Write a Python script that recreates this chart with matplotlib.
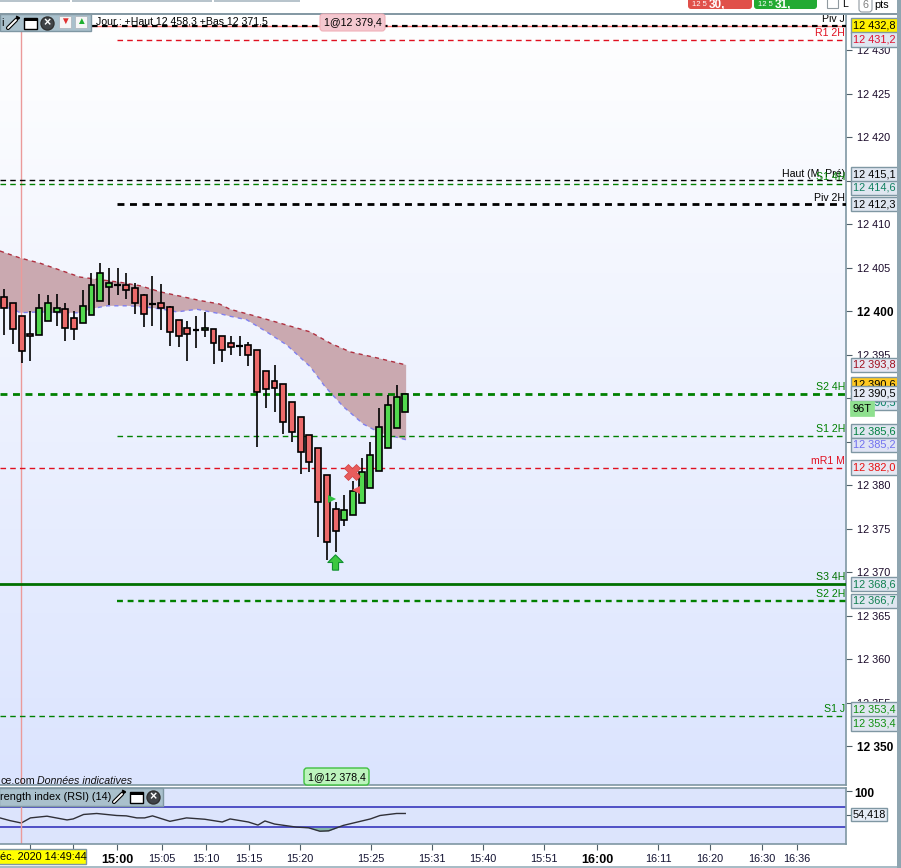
import numpy as np
import matplotlib
matplotlib.use("Agg")
import matplotlib.pyplot as plt
from matplotlib.patches import Rectangle, FancyBboxPatch, Circle
from matplotlib.path import Path

plt.rcParams['font.family'] = ['Liberation Sans', 'DejaVu Sans']

# candles, oldest first
opens = [12401.6, 12400.9, 12399.4, 12397.4, 12397.2, 12398.8, 12399.9, 12400.2, 12399.2, 12398.6,
         12399.6, 12401.2, 12402.8, 12403.0, 12403.0, 12402.6, 12401.8, 12400.8, 12400.9, 12400.5,
         12399.0, 12398.0, 12397.8, 12397.8, 12397.9, 12397.1, 12396.3, 12396.0, 12396.1, 12395.5,
         12393.1, 12392.0, 12391.6, 12389.5, 12387.8, 12385.7, 12384.2, 12381.1, 12377.3, 12376.0,
         12376.5, 12377.9, 12379.7, 12381.6, 12384.2, 12386.6, 12388.4]
closes = [12400.3, 12397.9, 12395.4, 12397.1, 12400.3, 12400.9, 12400.4, 12398.0, 12397.9, 12400.6,
          12403.0, 12404.4, 12403.2, 12403.0, 12402.4, 12400.9, 12399.7, 12400.8, 12400.3, 12397.6,
          12397.1, 12397.4, 12397.8, 12398.0, 12396.3, 12395.5, 12395.9, 12396.0, 12394.9, 12390.7,
          12391.0, 12391.1, 12387.3, 12386.1, 12383.8, 12382.6, 12378.1, 12373.4, 12374.7, 12377.1,
          12379.3, 12381.5, 12383.5, 12386.7, 12389.2, 12390.1, 12390.5]
highs = [12402.5, 12400.9, 12399.4, 12400.0, 12402.0, 12401.8, 12402.0, 12400.9, 12400.0, 12402.4,
         12404.4, 12405.5, 12404.9, 12404.9, 12404.4, 12403.2, 12401.9, 12404.0, 12403.1, 12400.6,
         12399.0, 12398.9, 12399.4, 12399.9, 12397.9, 12397.1, 12397.1, 12397.1, 12396.4, 12395.5,
         12393.1, 12393.8, 12391.6, 12389.5, 12387.8, 12385.7, 12384.2, 12381.1, 12378.0, 12378.9,
         12380.5, 12383.1, 12384.9, 12388.9, 12390.3, 12391.5, 12390.5]
lows = [12397.2, 12396.2, 12394.0, 12394.2, 12397.2, 12398.8, 12398.3, 12396.5, 12396.7, 12398.6,
        12399.6, 12401.2, 12400.7, 12401.8, 12401.4, 12399.7, 12398.2, 12398.3, 12397.8, 12396.0,
        12395.9, 12394.3, 12395.8, 12397.0, 12393.9, 12394.1, 12394.9, 12394.8, 12393.7, 12384.4,
        12388.9, 12388.4, 12385.9, 12385.0, 12381.3, 12381.5, 12374.0, 12371.4, 12372.3, 12375.3,
        12376.5, 12377.9, 12379.7, 12381.6, 12384.2, 12386.6, 12388.4]

# shaded band, x is candle number
band_up_x = [-0.5, 1.8, 4.1, 6.4, 8.7, 11, 13.3, 15.6, 17.9, 20.2, 22.5, 24.7, 25.9, 28.5, 31.3, 35.1, 37.4, 39.7, 42.8, 46.1]
band_up = [12406.9, 12406.1, 12405.5, 12404.7, 12403.9, 12403.6, 12403.3, 12402.9, 12402.2, 12401.7,
           12401.2, 12400.8, 12400.2, 12399.5, 12398.7, 12397.6, 12396.3, 12395.3, 12394.6, 12393.8]
band_lo_x = [-0.5, 1.1, 1.8, 4.1, 6.4, 8.7, 10.2, 11.8, 14.1, 15.9, 18.2, 19.8, 22.1, 24.7, 25.9, 27.8, 30.1, 32.4, 35.1, 36.8, 38.9, 41.2, 43.1, 46.1]
band_lo = [12400.6, 12400.2, 12399.8, 12399.9, 12399.8, 12399.8, 12400.3, 12400.6, 12400.6, 12400.5, 12400.2, 12399.9,
           12400.2, 12399.7, 12399.4, 12399.0, 12397.6, 12396.1, 12393.6, 12391.3, 12389.0, 12387.0, 12386.0, 12385.2]

# horizontal levels: price, label, colour, width, style, first candle position
level_prices = [12432.8, 12431.2, 12415.1, 12414.6, 12412.3, 12390.5, 12385.6, 12382.0, 12368.6, 12366.7, 12353.4]
level_names = ['Piv J', 'R1 2H', 'Haut (M, Pré)', 'S1 4H', 'Piv 2H', 'S2 4H', 'S1 2H', 'mR1 M', 'S3 4H', 'S2 2H', 'S1 J']
level_colors = ['black', '#e01020', 'black', '#008000', 'black', '#008000', '#008000', '#e01020', '#007000', '#008000', '#008000']
level_widths = [1.6, 1.0, 1.0, 1.0, 2.0, 2.0, 1.0, 1.0, 2.0, 1.7, 1.0]
level_solid = [False, False, False, False, False, False, False, False, True, False, False]
level_start = [10.1, 12.9, -0.5, -0.5, 12.9, -0.5, 12.9, -0.5, -0.5, 12.9, -0.5]
level_text_up = [7, 7, 6, 7, 6, 7, 7, 7, 7, 7, 7]

# RSI
rsi_x = [-0.5, 0.65, 1.95, 3.0, 4.9, 7.2, 7.9, 9.1, 10.6, 12.9, 14, 15.2, 16.1, 17, 19, 20.9, 23, 25, 25.9, 28, 29.1, 29.9, 31, 33.5, 34.9, 36.2, 37.2, 38.9, 42, 43.1, 45, 46]
rsi_y = [48.2, 43.0, 38.4, 48.2, 51.5, 44.3, 46.2, 54.8, 56.7, 52.8, 52.1, 48.2, 48.2, 52.1, 41.6, 48.2, 45.6, 40.3, 46.2,
         40.3, 34.4, 42.3, 36.4, 30.5, 29.2, 22.6, 23.3, 33.8, 46.2, 52.8, 56.7, 56.7]

# time axis
time_ticks = [12.93, 18.09, 23.14, 28.07, 33.92, 42.07, 49.06, 54.9, 61.9, 68, 75, 80.96, 86.9, 90.9]
time_labels = ['15:00', '15:05', '15:10', '15:15', '15:20', '15:25', '15:31', '15:40', '15:51', '16:00', '16:11', '16:20', '16:30', '16:36']
time_bold = ['15:00', '16:00']
extra_ticks = [2.95, 7.88]

price_ticks = list(range(12350, 12431, 5))
bold_prices = [12350, 12400]

# boxes on the price axis: text, price it belongs to, text colour, fill, pixel shift
box_texts = ['12 390,6', '12 390,5', '12 432,8', '12 431,2', '12 415,1', '12 414,6', '12 412,3', '12 393,8', '12 390,5', '12 385,6',
             '12 385,2', '12 382,0', '12 368,6', '12 366,7', '12 353,4', '12 353,4']
box_prices = [12390.5, 12390.5, 12432.8, 12431.2, 12415.1, 12414.6, 12412.3, 12393.8, 12390.5, 12385.6,
              12385.2, 12382.0, 12368.6, 12366.7, 12353.4, 12353.4]
box_colors = ['black', '#008060', 'black', '#e01030', 'black', '#108060', 'black', '#a01020', 'black', '#008040',
              '#7070f0', '#e81010', '#108050', '#108050', '#109010', '#109010']
box_fills = ['#ffc820', '#dbe4f0', '#fff000', '#dfe6f0', '#dfe6f0', '#dfe6f0', '#dfe6f0', '#e6e6f2', '#e4eaf4', '#dfe6f0',
             '#e0e4f4', '#e6e8f2', '#dfe6f0', '#dfe6f0', '#dfe6f0', '#dfe6f0']
box_shift = [9, -9, 0, 0, 5, -4, 0, 0, 0, 5, -5, 0, 0, 0, 7, -7]

W, H = 901, 868
fig = plt.figure(figsize=(W / 100, H / 100), dpi=100, facecolor='white')
ax = fig.add_axes([0, (H - 785) / H, 846 / W, (785 - 14) / H])
ax_rsi = fig.add_axes([0, (H - 844) / H, 846 / W, (844 - 788) / H])

x_lim = (-0.493, 96.56)
y_lim = (12345.52, 12434.14)

gradient = np.linspace(0, 1, 256).reshape(-1, 1)
cmap = matplotlib.colors.LinearSegmentedColormap.from_list('bg', ['#ffffff', '#dbe4fe'])
ax.imshow(gradient, cmap=cmap, aspect='auto', extent=(0, 1, 0, 1), transform=ax.transAxes, zorder=0)
ax.set_xlim(x_lim)
ax.set_ylim(y_lim)

# band
ax.fill(band_up_x + band_lo_x[::-1], band_up + band_lo[::-1], color='#caa9b0', lw=0, zorder=1)
ax.plot(band_up_x, band_up, color='#b03040', lw=1, ls=(0, (3, 3)), zorder=2)
ax.plot(band_lo_x, band_lo, color='#8080f0', lw=1, ls=(0, (3, 3)), zorder=2)

# levels
for price, col, lw, solid, start in zip(level_prices, level_colors, level_widths, level_solid, level_start):
    ls = '-' if solid else ((0, (4, 3)) if lw < 1.5 else (0, (2.5, 2)))
    ax.plot([start, x_lim[1]], [price, price], color=col, lw=lw, ls=ls, zorder=3)
ax.plot([8.9, x_lim[1]], [12432.8, 12432.8], color='#ff7070', lw=1, zorder=2.9)

for price, name, col, up in zip(level_prices, level_names, level_colors, level_text_up):
    ax.annotate(name, xy=(1, price), xycoords=ax.get_yaxis_transform(), xytext=(-1, up), textcoords='offset pixels',
                ha='right', va='center', fontsize=7.6, color=col, zorder=4, annotation_clip=False)

# candles
for i, (o, h, l, c) in enumerate(zip(opens, highs, lows, closes)):
    ax.plot([i, i], [l, h], color='black', lw=1.2, zorder=5, solid_capstyle='butt')
    if o == c:
        ax.plot([i - 0.38, i + 0.38], [o, o], color='black', lw=1.6, zorder=6, solid_capstyle='butt')
    else:
        col = '#52d84e' if c > o else '#ec6a6a'
        ax.add_patch(Rectangle((i - 0.34, min(o, c)), 0.68, abs(c - o), fc=col, ec='black', lw=1.2, zorder=6))

# trades
ax.plot([37.65], [12378.4], marker='>', color='#30c040', ms=6, mew=0, zorder=7)
ax.plot([40.35], [12379.4], marker='<', color='#ec5a5a', ms=6, mew=0, zorder=7)
ax.plot([39.9], [12381.5], marker='X', color='#e85c5c', mec='#d04040', ms=11, mew=0.5, zorder=7)
up_arrow = Path([(-0.4, -1), (0.4, -1), (0.4, 0), (1, 0), (0, 1), (-1, 0), (-0.4, 0), (-0.4, -1)])
ax.plot([37.9], [12371.1], marker=up_arrow, color='#3cc840', mec='#109030', ms=11, mew=0.8, zorder=7)

ax.axvline(1.97, color='#eb9a9a', lw=1, zorder=2.5)

# axes look
ax.yaxis.tick_right()
ax.set_yticks(price_ticks)
ax.set_yticklabels([f"{p // 1000} {p % 1000:03d}" for p in price_ticks], fontsize=7.8, color='#180828')
for lab, p in zip(ax.get_yticklabels(), price_ticks):
    if p in bold_prices:
        lab.set_fontweight('bold')
        lab.set_fontsize(8.6)
        lab.set_color('black')
ax.tick_params(axis='y', length=4, width=0.8, color='#50606a', pad=4)
ax.set_xticks([])
for s in ax.spines.values():
    s.set_color('#7f97a3')
    s.set_linewidth(1.2)
ax.spines['left'].set_visible(False)

# boxes
for txt, price, col, fill, shift in zip(box_texts, box_prices, box_colors, box_fills, box_shift):
    ax.annotate(txt, xy=(1, price), xycoords=ax.get_yaxis_transform(), xytext=(28.5, shift), textcoords='offset pixels',
                ha='center', va='center', fontsize=7.9, color=col, zorder=20, annotation_clip=False,
                bbox=dict(boxstyle='square,pad=0.2', fc=fill, ec='#7f97a3', lw=1))
ax.annotate('96T', xy=(1, 12390.5), xycoords=ax.get_yaxis_transform(), xytext=(16, -15), textcoords='offset pixels',
            ha='center', va='center', fontsize=7.9, color='black', zorder=21, annotation_clip=False,
            bbox=dict(boxstyle='square,pad=0.2', fc='#8fe08f', ec='#8fe08f', lw=0.5))

ax.text(-0.45, 12346.0, 'ce.com', fontsize=7.7, color='#101010', va='center', zorder=8)
ax.text(3.75, 12346.0, 'Données indicatives', fontsize=7.7, style='italic', color='#101010', va='center', zorder=8)
ax.text(96 / 846, 1 - 8 / 771, 'Jour.: +Haut 12 458,3 +Bas 12 371,5', transform=ax.transAxes, fontsize=7.6, va='center', zorder=8)

# RSI panel
ax_rsi.set_facecolor('#dce4fc')
ax_rsi.set_xlim(x_lim)
ax_rsi.set_ylim(-2, 105.7)
ax_rsi.axhline(70, color='#2828b8', lw=1.1)
ax_rsi.axhline(30, color='#2828b8', lw=1.1)
ax_rsi.plot(rsi_x, rsi_y, color='#303038', lw=1)
ax_rsi.fill_between(rsi_x, rsi_y, 30, where=[v <= 30.5 for v in rsi_y], color='#86b8a8', lw=0, interpolate=True)
ax_rsi.axvline(1.97, color='#eb9a9a', lw=1)
ax_rsi.yaxis.tick_right()
ax_rsi.set_yticks([100, 54.418])
ax_rsi.set_yticklabels(['', ''])
ax_rsi.tick_params(axis='y', length=4, width=0.8, color='#50606a', pad=3)
ax_rsi.annotate('100', xy=(1, 100), xycoords=ax_rsi.get_yaxis_transform(), xytext=(8, -3), textcoords='offset pixels',
                ha='left', va='center', fontsize=8.6, fontweight='bold', annotation_clip=False)
ax_rsi.annotate('54,418', xy=(1, 54.418), xycoords=ax_rsi.get_yaxis_transform(), xytext=(23, 0), textcoords='offset pixels',
                ha='center', va='center', fontsize=7.8, color='black', annotation_clip=False,
                bbox=dict(boxstyle='square,pad=0.12', fc='#e6ecf6', ec='#7f97a3', lw=1))
ax_rsi.set_xticks(time_ticks + extra_ticks)
ax_rsi.set_xticklabels(time_labels + ['', ''], fontsize=7.8, color='#101030')
for lab, t in zip(ax_rsi.get_xticklabels(), time_labels + ['', '']):
    if t in time_bold:
        lab.set_fontweight('bold')
        lab.set_fontsize(9)
        lab.set_color('black')
ax_rsi.tick_params(axis='x', length=4, width=0.8, color='#50606a', pad=3)
for s in ax_rsi.spines.values():
    s.set_color('#7f97a3')
    s.set_linewidth(1.2)
ax_rsi.spines['left'].set_visible(False)

# window chrome, drawn in pixel coordinates over everything
over = fig.add_axes([0, 0, 1, 1], zorder=30)
over.set_xlim(0, W)
over.set_ylim(H, 0)
over.axis('off')
over.patch.set_alpha(0)


def box(x0, y0, x1, y1, fc, ec='none', lw=1, z=1):
    over.add_patch(Rectangle((x0, y0), x1 - x0, y1 - y0, fc=fc, ec=ec, lw=lw, zorder=z))


def rbox(x0, y0, x1, y1, fc, ec='none', lw=1, z=1, r=3):
    over.add_patch(FancyBboxPatch((x0 + r, y0 + r), x1 - x0 - 2 * r, y1 - y0 - 2 * r, boxstyle=f'round,pad={r}',
                                  fc=fc, ec=ec, lw=lw, zorder=z))


def icons(x, y):
    # wrench, window, close
    over.plot([x + 1, x + 9], [y + 5, y - 3], color='black', lw=3, zorder=3, solid_capstyle='round')
    over.plot([x + 9, x + 12, x + 10], [y - 3, y - 5, y - 6], color='black', lw=1.6, zorder=3)
    over.plot([x + 1, x + 9], [y + 5, y - 3], color='white', lw=1.4, zorder=3.1, solid_capstyle='round')
    box(x + 17, y - 5.5, x + 29.5, y + 6, 'white', 'black', 1, z=3)
    box(x + 17, y - 5.5, x + 29.5, y - 2, 'black', z=3.1)
    over.add_patch(Circle((x + 40.5, y + 0.5), 6.5, fc='#404448', ec='#303030', zorder=3))
    over.text(x + 40.5, y + 0.5, '×', color='white', fontsize=9, fontweight='bold', ha='center', va='center', zorder=3.2)


# right strip and top bar
box(897, 0, 901, H, '#8fa5b0')
box(0, 0, 897, 14, '#ffffff')
box(0, 0, 70, 1.5, '#b8c4cc')
box(72, 0, 212, 1.5, '#b8c4cc')
box(214, 0, 300, 1.5, '#b8c4cc')
box(0, 13, 897, 14.5, '#8599a4', z=1.5)
rbox(688, -6, 752, 9, '#e0504a', z=2)
rbox(754, -6, 817, 9, '#22aa33', z=2)
over.text(692, 4.5, '12 5', color='white', fontsize=5.5, va='center', zorder=3)
over.text(709, 4.5, '30,', color='white', fontsize=8.5, fontweight='bold', va='center', zorder=3)
over.text(758, 4.5, '12 5', color='white', fontsize=5.5, va='center', zorder=3)
over.text(775, 4.5, '31,', color='white', fontsize=8.5, fontweight='bold', va='center', zorder=3)
box(827, -2, 838, 8, 'white', '#909aa0', 0.8, z=2)
over.text(842, 4, 'L', fontsize=7.6, va='center', zorder=3)
rbox(859, -4, 872, 12, 'white', '#909aa0', 0.8, z=2)
over.text(865.5, 5, '6', fontsize=7.8, color='#808080', ha='center', va='center', zorder=3)
over.text(874, 5, 'pts', fontsize=7.8, va='center', zorder=3)

# main panel header
box(0, 14, 91, 31, '#a9c0cc', '#7f97a3', 1)
over.text(1, 23, 'i', fontsize=7.8, va='center', zorder=3)
icons(7, 23)
box(59, 16, 71, 28, '#f6f6f6', '#b0b8c0', 0.6, z=2)
over.text(65, 21, '▼', color='#e03030', fontsize=7, ha='center', va='center', zorder=3)
box(75, 16, 87, 28, '#f6f6f6', '#b0b8c0', 0.6, z=2)
over.text(81, 21, '▲', color='#20b030', fontsize=7, ha='center', va='center', zorder=3)
rbox(320, 14, 385, 31, '#f4c8d0', '#f0b0b8', 0.8, z=2)
over.text(352.5, 22.5, '1@12 379,4', fontsize=7.7, ha='center', va='center', zorder=3)

# green order tag
rbox(304, 768, 369, 785, '#bdf4bd', '#40c040', 1, z=2)
over.text(336.5, 777, '1@12 378,4', fontsize=7.7, ha='center', va='center', zorder=3)

# RSI header
box(-1, 788, 163, 806, '#a9c0cc', '#7f97a3', 1)
over.text(0, 797, 'rength index (RSI) (14)', fontsize=7.8, va='center', zorder=3)
icons(113, 797)

# date tag and bottom line
box(-2, 849, 86, 864, '#ffff00', '#7f97a3', 1, z=2)
over.text(0, 857, 'éc. 2020 14:49:44', fontsize=7.8, va='center', zorder=3)
box(0, 865.5, 897, 868, '#a8bcc6')

fig.savefig('out.png', dpi=100)
